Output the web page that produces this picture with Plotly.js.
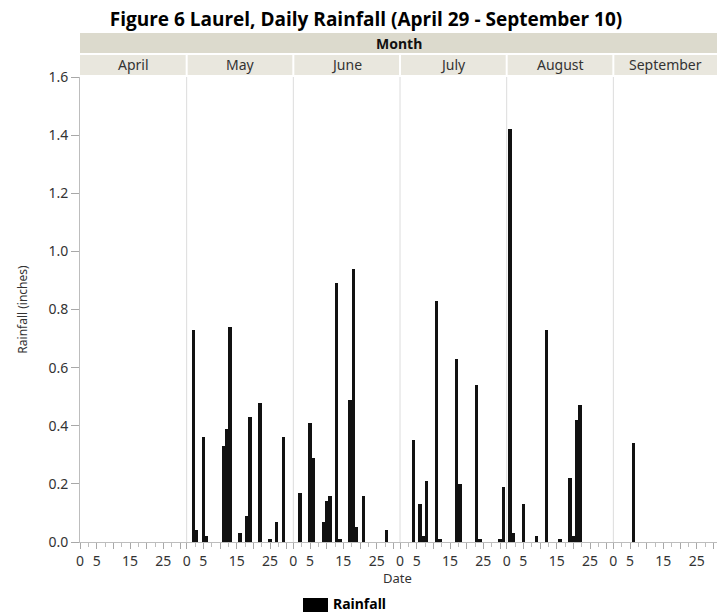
<!DOCTYPE html>
<html><head><meta charset="utf-8">
<script src="https://cdn.plot.ly/plotly-3.0.1.min.js"></script>
<style>html,body{margin:0;padding:0;background:#fff}#chart{width:717px;height:613px}</style>
</head><body><div id="chart"></div>
<script>
// ---- data ----
const months = ['April', 'May', 'June', 'July', 'August', 'September'];
const aprilDays = [29, 30];
const aprilRain = [0, 0];
const mayDays = [2, 3, 5, 6, 11, 12, 13, 16, 18, 19, 22, 25, 27, 29];
const mayRain = [0.73, 0.04, 0.36, 0.02, 0.33, 0.39, 0.74, 0.03, 0.09, 0.43, 0.48, 0.01, 0.07, 0.36];
const juneDays = [2, 5, 6, 9, 10, 11, 13, 14, 17, 18, 19, 21, 28];
const juneRain = [0.17, 0.41, 0.29, 0.07, 0.14, 0.16, 0.89, 0.01, 0.49, 0.94, 0.05, 0.16, 0.04];
const julyDays = [4, 6, 7, 8, 11, 12, 17, 18, 23, 24, 30, 31];
const julyRain = [0.35, 0.13, 0.02, 0.21, 0.83, 0.01, 0.63, 0.20, 0.54, 0.01, 0.01, 0.19];
const augustDays = [1, 2, 5, 9, 12, 16, 19, 20, 21, 22];
const augustRain = [1.42, 0.03, 0.13, 0.02, 0.73, 0.01, 0.22, 0.02, 0.42, 0.47];
const septemberDays = [6];
const septemberRain = [0.34];
const dayTickVals = [0, 5, 10, 15, 20, 25, 30];
const dayTickText = ['0', '5', '', '15', '', '25', ''];
const seriesName = 'Rainfall';

const daysByMonth = [aprilDays, mayDays, juneDays, julyDays, augustDays, septemberDays];
const rainByMonth = [aprilRain, mayRain, juneRain, julyRain, augustRain, septemberRain];

// ---- geometry ----
const FW = 717, FH = 613;
const ML = 80, MR = 0, MT = 77, MB = 71;
const plotW = FW - ML - MR, plotH = FH - MT - MB;
const panelPx = 106.67, panelDays = 32;
const FONT = 'Noto Sans, Open Sans, sans-serif';
const py = (pix) => (FH - MB - pix) / plotH;   // pixel y -> paper y
const px = (pix) => (pix - ML) / plotW;          // pixel x -> paper x

const traces = [];
const layout = {
  width: FW, height: FH,
  margin: {l: ML, r: MR, t: MT, b: MB},
  paper_bgcolor: '#fff', plot_bgcolor: '#fff',
  showlegend: false,
  bargap: 0,
  font: {family: FONT, size: 14, color: '#333'},
  title: {
    text: '<b>Figure 6 Laurel, Daily Rainfall (April 29 - September 10)</b>',
    x: 366 / FW, xanchor: 'center', xref: 'container',
    y: 1 - 19 / FH, yanchor: 'middle', yref: 'container',
    font: {family: 'Open Sans, Noto Sans, sans-serif', size: 19, color: '#000'}
  },
  yaxis: {
    range: [0, 1.6], dtick: 0.2, tickformat: '.1f',
    anchor: 'x', domain: [0, 1],
    showgrid: false, zeroline: false,
    showline: true, linecolor: '#bdbdbd', linewidth: 1,
    ticks: 'outside', ticklen: 8, tickcolor: '#a8a8a8',
    tickfont: {family: FONT, size: 14, color: '#333'},
    title: {text: 'Rainfall (inches)', font: {family: FONT, size: 12, color: '#333'}, standoff: 18}
  },
  shapes: [],
  annotations: []
};

months.forEach((m, i) => {
  const x0 = i * panelPx / plotW;
  const x1 = Math.min(1, (i + 1) * panelPx / plotW);
  const span = panelDays * (x1 - x0) * plotW / panelPx;
  const axKey = i === 0 ? 'xaxis' : 'xaxis' + (i + 1);
  const axRef = i === 0 ? 'x' : 'x' + (i + 1);
  layout[axKey] = {
    domain: [x0, x1], range: [0, span], anchor: 'y',
    showgrid: false, zeroline: false,
    showline: true, linecolor: '#bdbdbd', linewidth: 1,
    tickmode: 'array', tickvals: dayTickVals, ticktext: dayTickText,
    ticks: 'outside', ticklen: 6, tickcolor: '#a8a8a8',
    minor: {tick0: 0, dtick: 2.5, ticks: 'outside', ticklen: 4, tickcolor: '#bdbdbd'},
    tickfont: {family: FONT, size: 14, color: '#333'}
  };
  traces.push({
    type: 'bar', name: seriesName,
    x: daysByMonth[i], y: rainByMonth[i],
    xaxis: axRef, yaxis: 'y',
    width: 0.95,
    marker: {color: '#111', line: {width: 0}},
    showlegend: false
  });
  // panel separators
  if (i > 0) {
    layout.shapes.push({type: 'line', xref: 'paper', yref: 'paper', x0: x0, x1: x0, y0: 0, y1: 1,
      line: {color: '#dcdcdc', width: 1}, layer: 'below'});
  }
  // month label cell
  layout.annotations.push({
    text: m, xref: 'paper', yref: 'paper', x: (x0 + x1) / 2, y: py(65),
    xanchor: 'center', yanchor: 'middle', showarrow: false,
    font: {family: FONT, size: 14, color: '#333'}
  });
});

// header bands
layout.shapes.unshift(
  {type: 'rect', xref: 'paper', yref: 'paper', x0: 0, x1: 1, y0: py(53), y1: py(33),
   fillcolor: '#dcdacd', line: {width: 0}},
  {type: 'rect', xref: 'paper', yref: 'paper', x0: 0, x1: 1, y0: py(75), y1: py(55),
   fillcolor: '#e9e7de', line: {width: 0}}
);
for (let i = 1; i < months.length; i++) {
  const xb = i * panelPx / plotW;
  layout.shapes.push({type: 'line', xref: 'paper', yref: 'paper', x0: xb, x1: xb, y0: py(75), y1: py(55),
    line: {color: '#ffffff', width: 2}});
}
layout.annotations.push({
  text: '<b>Month</b>', xref: 'paper', yref: 'paper', x: 0.5, y: py(43),
  xanchor: 'center', yanchor: 'middle', showarrow: false,
  font: {family: FONT, size: 14, color: '#111'}
});
// x title
layout.annotations.push({
  text: 'Date', xref: 'paper', yref: 'paper', x: px(397), y: py(578),
  xanchor: 'center', yanchor: 'middle', showarrow: false,
  font: {family: FONT, size: 13, color: '#333'}
});
// legend
layout.shapes.push({type: 'rect', xref: 'paper', yref: 'paper', x0: px(303), x1: px(328), y0: py(612), y1: py(598),
  fillcolor: '#000', line: {width: 0}});
layout.annotations.push({
  text: '<b>' + seriesName + '</b>', xref: 'paper', yref: 'paper', x: px(331), y: py(603),
  xanchor: 'left', yanchor: 'middle', showarrow: false,
  font: {family: FONT, size: 14, color: '#000'}
});

Plotly.newPlot('chart', traces, layout, {displayModeBar: false, staticPlot: true});
</script>
</body></html>
